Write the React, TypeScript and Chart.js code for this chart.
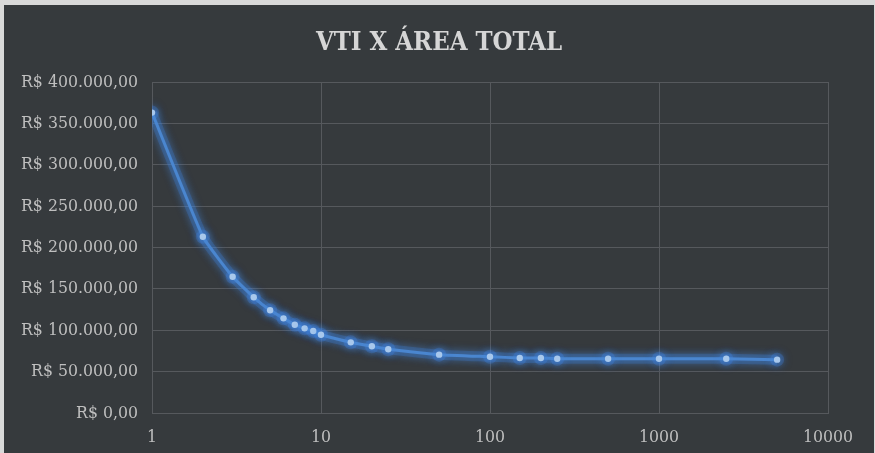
import React, { useEffect, useRef } from "react";
import { Chart, registerables } from "chart.js";

Chart.register(...registerables);

const chartTitle = "VTI X ÁREA TOTAL";
const areas = [1, 2, 3, 4, 5, 6, 7, 8, 9, 10, 15, 20, 25, 50, 100, 150, 200, 250, 500, 1000, 2500, 5000];
const vtiValues = [363000, 213000, 164700, 139800, 124100, 114400, 106700, 102300, 99100, 94600, 85400, 80600, 77000, 70500, 68000, 66500, 66500, 65500, 65500, 65500, 65500, 64500];
const xTicks = [1, 10, 100, 1000, 10000];

function formatBRL(v: number): string {
  const fixed = Math.abs(v).toFixed(2);
  const [intPart, dec] = fixed.split(".");
  const withDots = intPart.replace(/\B(?=(\d{3})+(?!\d))/g, ".");
  return "R$ " + (v < 0 ? "-" : "") + withDots + "," + dec;
}

const glowPlugin = {
  id: "glow",
  beforeDatasetDraw(chart: any) {
    const ctx = chart.ctx;
    ctx.save();
    ctx.shadowColor = "rgba(70,140,235,0.9)";
    ctx.shadowBlur = 10;
  },
  afterDatasetDraw(chart: any) {
    chart.ctx.restore();
  },
};

const tickFont = { family: "'DejaVu Serif Condensed', 'DejaVu Serif', serif", size: 17.5 };

export default function App() {
  const canvasRef = useRef<HTMLCanvasElement | null>(null);

  useEffect(() => {
    if (!canvasRef.current) return;
    const grid = "#56595d";
    const points = areas.map((a, i) => ({ x: a, y: vtiValues[i] }));
    const chart = new Chart(canvasRef.current, {
      type: "line",
      data: {
        datasets: [
          {
            data: points,
            borderColor: "#4a86cf",
            borderWidth: 3,
            tension: 0.13,
            pointRadius: 3.2,
            pointBackgroundColor: "#a8c8ec",
            pointBorderWidth: 0,
            pointBorderColor: "#a8c8ec",
            fill: false,
            order: 1,
          },
          {
            data: points,
            borderColor: "rgba(60,130,225,0.25)",
            borderWidth: 10,
            tension: 0.13,
            pointRadius: 7,
            pointBackgroundColor: "rgba(60,130,225,0.28)",
            pointBorderWidth: 0,
            fill: false,
            order: 2,
          },
        ],
      },
      options: {
        animation: false,
        responsive: false,
        maintainAspectRatio: false,
        layout: { padding: { left: 0, right: 0, top: 0, bottom: 7 } },
        plugins: {
          legend: { display: false },
          tooltip: { enabled: false },
          title: {
            display: true,
            text: chartTitle,
            color: "#d6d6d6",
            font: { family: "'DejaVu Serif Condensed', 'DejaVu Serif', serif", size: 25.5, weight: "bold" },
            padding: { top: 23, bottom: 23.4 },
          },
        },
        scales: {
          x: {
            type: "logarithmic",
            min: 1,
            max: 10000,
            afterBuildTicks: (scale: any) => {
              scale.ticks = xTicks.map((v) => ({ value: v }));
            },
            afterFit: (scale: any) => {
              scale.height = 33;
            },
            ticks: {
              color: "#bfbfbf",
              font: tickFont,
              padding: 14,
              maxRotation: 0,
              autoSkip: false,
              callback: (v: any) => String(v),
            },
            grid: { color: grid, lineWidth: 1, drawTicks: false },
            border: { color: grid, width: 1 },
          },
          y: {
            min: 0,
            max: 400000,
            afterFit: (scale: any) => {
              scale.width = 148;
            },
            ticks: {
              stepSize: 50000,
              color: "#bfbfbf",
              font: tickFont,
              padding: 14,
              callback: (v: any) => formatBRL(Number(v)),
            },
            grid: { color: grid, lineWidth: 1, drawTicks: false },
            border: { color: grid, width: 1 },
          },
          yRight: {
            position: "right",
            min: 0,
            max: 1,
            afterFit: (scale: any) => {
              scale.width = 46;
            },
            ticks: { display: false },
            grid: { display: false, drawTicks: false },
            border: { display: false },
          },
        },
      },
      plugins: [glowPlugin],
    } as any);
    return () => chart.destroy();
  }, []);

  return (
    <div style={{ position: "absolute", left: 0, top: 0, width: 875, height: 453, background: "#d9d9d9", overflow: "hidden" }}>
      <div style={{ position: "absolute", left: 4, top: 5, width: 870, height: 448, background: "#363a3d" }}>
        <canvas ref={canvasRef} width={870} height={448} style={{ display: "block", width: 870, height: 448 }} />
      </div>
    </div>
  );
}
